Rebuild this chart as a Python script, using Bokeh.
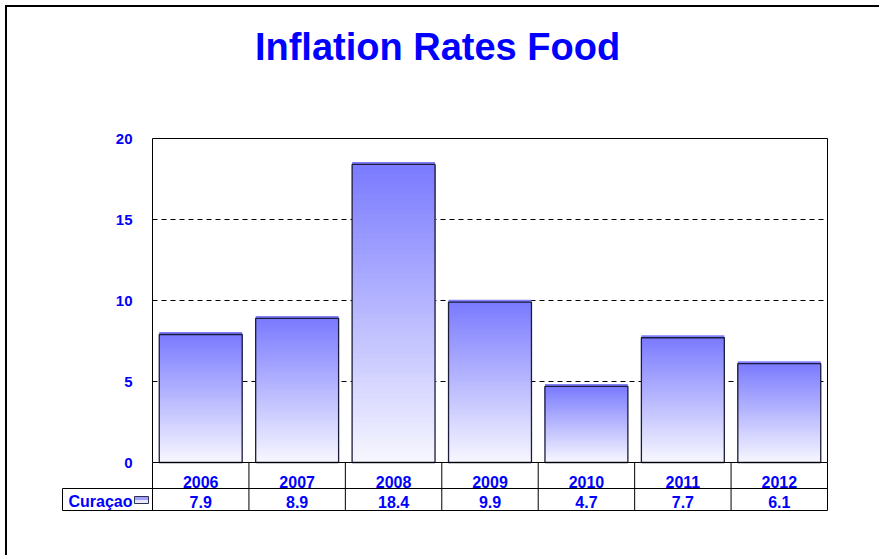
import numpy as np
from bokeh.plotting import figure
from bokeh.models import Range1d, FixedTicker
from bokeh.embed import file_html
from bokeh.resources import INLINE
from bokeh.core.properties import value

# ---- data ----
years = ["2006", "2007", "2008", "2009", "2010", "2011", "2012"]
rates = [7.9, 8.9, 18.4, 9.9, 4.7, 7.7, 6.1]
series_name = "Curaçao"
y_ticks = [0, 5, 10, 15, 20]
grid_ticks = [5, 10, 15]
title_text = "Inflation Rates Food"

BLUE = "#0000ff"
FONT = "Liberation Sans"
W, H = 874, 550
PPU = 675 / 7            # px per category
PPY = 324 / 20           # px per y unit
n = len(years)
YMAX = 20

# layout in data units (table below the plot, title above)
left_cell = -90 / PPU
row_mid = -26 / PPY
row_bot = -48 / PPY
y_year = -19 / PPY
y_val = -39 / PPY

x = np.arange(n) + 0.5
vals = np.array(rates)
BW = 0.86

p = figure(width=W, height=H,
           x_range=Range1d(-92 / PPU, n + 3 / PPU),
           y_range=Range1d(-50 / PPY, YMAX + 131 / PPY),
           x_axis_location=None, output_backend="svg", toolbar_location=None,
           min_border_left=53, min_border_right=51, min_border_top=0, min_border_bottom=45,
           styles={"box-shadow": "-2px -2px 0px 0px black",
                   "margin-top": "7px", "margin-left": "7px"})
p.grid.visible = False
p.outline_line_color = None
p.background_fill_color = "white"
p.border_fill_color = "white"

ax = p.yaxis[0]
ax.fixed_location = 0
ax.ticker = FixedTicker(ticks=y_ticks)
ax.axis_line_color = None
ax.major_tick_line_color = None
ax.minor_tick_line_color = None
ax.major_label_standoff = 14
ax.major_label_text_font = FONT
ax.major_label_text_font_style = "bold"
ax.major_label_text_font_size = "15px"
ax.major_label_text_color = BLUE

# title
p.text(x=[(437 - 152) / PPU], y=[YMAX + 92 / PPY], text=[title_text], text_align="center",
       text_baseline="middle", text_font=value(FONT), text_font_size="38px",
       text_font_style="bold", text_color=BLUE)

# dashed gridlines
p.segment(x0=[0] * len(grid_ticks), y0=grid_ticks, x1=[n] * len(grid_ticks), y1=grid_ticks,
          line_color="black", line_dash="5 4", line_width=1)

# gradient fill: overlapping slices per bar
N = 60
top_c = np.array([122, 122, 255])
bot_c = np.array([247, 247, 255])
xs, bots, tops, cols = [], [], [], []
for j in range(N):
    f = (j + 0.5) / N
    c = bot_c + (top_c - bot_c) * f
    col = "#%02x%02x%02x" % tuple(int(round(t)) for t in c)
    for xi, v in zip(x, vals):
        xs.append(xi)
        bots.append(v * j / N)
        tops.append(v)
        cols.append(col)
p.vbar(x=xs, width=BW, bottom=bots, top=tops, fill_color=cols, line_color=None)
# thin top strip (bevel)
p.vbar(x=x, width=BW, bottom=vals, top=vals + 0.15, fill_color="#8080ff", line_color=None)
# outline
p.vbar(x=x, width=BW, bottom=0, top=vals, fill_color=None, line_color="#1c1c3a", line_width=1.3)

# plot area border
p.quad(left=[0], right=[n], bottom=[0], top=[YMAX], fill_color=None, line_color="black", line_width=1)

# ---- data table ----
kx = np.arange(n + 1)
p.segment(x0=kx, y0=[0] * (n + 1), x1=kx, y1=[row_bot] * (n + 1), line_color="black", line_width=1)
p.segment(x0=[left_cell], y0=[row_mid], x1=[left_cell], y1=[row_bot], line_color="black", line_width=1)
p.segment(x0=[left_cell, left_cell], y0=[row_mid, row_bot], x1=[n, n], y1=[row_mid, row_bot],
          line_color="black", line_width=1)

txt = dict(text_font=value(FONT), text_font_style="bold", text_font_size="16px",
           text_color=BLUE, text_baseline="middle")
p.text(x=x, y=[y_year] * n, text=years, text_align="center", **txt)
p.text(x=x, y=[y_val] * n, text=["%.1f" % v for v in rates], text_align="center", **txt)
p.text(x=[-84 / PPU], y=[y_val], text=[series_name], text_align="left", **txt)
# legend swatch
sw_l, sw_r = -18 / PPU, -4 / PPU
sw_b, sw_m, sw_t = -41 / PPY, -37.5 / PPY, -34 / PPY
p.quad(left=[sw_l], right=[sw_r], bottom=[sw_b], top=[sw_m], fill_color="#e8e8ff", line_color=None)
p.quad(left=[sw_l], right=[sw_r], bottom=[sw_m], top=[sw_t], fill_color="#a0a0ff", line_color=None)
p.quad(left=[sw_l], right=[sw_r], bottom=[sw_b], top=[sw_t], fill_color=None, line_color="#303050", line_width=1)

open("out.html", "w").write(file_html(p, INLINE))
